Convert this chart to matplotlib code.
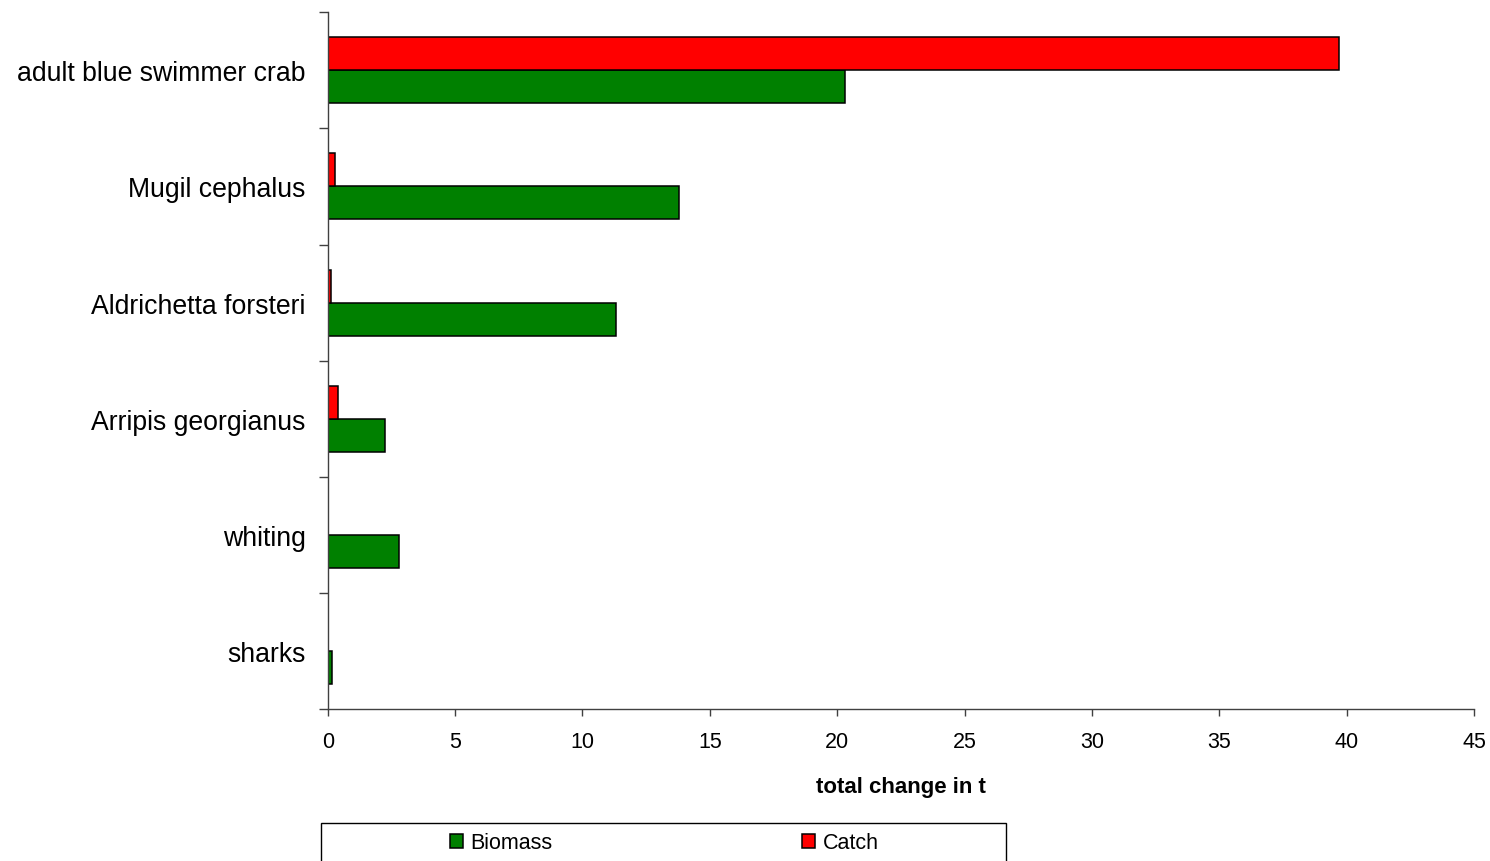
import matplotlib
matplotlib.use("Agg")
import matplotlib.pyplot as plt
from matplotlib.patches import Rectangle, Patch
import numpy as np

categories = ["adult blue swimmer crab", "Mugil cephalus", "Aldrichetta forsteri",
              "Arripis georgianus", "whiting", "sharks"]
biomass = [20.3, 13.8, 11.3, 2.25, 2.8, 0.15]
catch = [39.7, 0.27, 0.13, 0.42, 0.0, 0.0]
x_ticks = [0, 5, 10, 15, 20, 25, 30, 35, 40, 45]
series_names = ["Biomass", "Catch"]
series_colors = ["#008000", "#FF0000"]

plt.rcParams['font.family'] = ['Liberation Sans', 'DejaVu Sans']

W, H = 1490, 862
fig = plt.figure(figsize=(W / 100, H / 100), dpi=100)
ax = fig.add_axes([327.7 / W, 1 - 710 / H, (1474 - 327.7) / W, (710 - 13.3) / H])

y = np.arange(len(categories))
bh = 0.284
ax.barh(y + bh / 2, biomass, height=bh, color=series_colors[0], edgecolor="black",
        linewidth=1.1, label=series_names[0])
ax.barh(y - bh / 2, catch, height=bh, color=series_colors[1], edgecolor="black",
        linewidth=1.1, label=series_names[1])

ax.set_xlim(0, 45)
ax.set_ylim(len(categories) - 0.5, -0.5)
ax.set_xticks(x_ticks)
ax.set_xticklabels([str(t) for t in x_ticks], fontsize=15.5)

# category boundaries as major ticks, labels at centers via minor ticks
ax.set_yticks(np.arange(-0.5, len(categories) + 0.5, 1.0))
ax.set_yticklabels([])
ax.set_yticks(y, minor=True)
ax.set_yticklabels(categories, minor=True, fontsize=19.2)
ax.tick_params(axis='y', which='major', length=9.5 * 0.72, width=1, color='#404040')
ax.tick_params(axis='y', which='minor', length=0, pad=16)
ax.tick_params(axis='x', which='major', length=6.7 * 0.72, width=1, color='#404040', pad=11)

for s in ['top', 'right']:
    ax.spines[s].set_visible(False)
for s in ['left', 'bottom']:
    ax.spines[s].set_color('#404040')
    ax.spines[s].set_linewidth(1)

ax.set_xlabel("total change in t", fontsize=16, fontweight='bold', labelpad=17)

# legend frame (Excel-style box, extends past bottom edge)
fig.patches.append(Rectangle((321 / W, -0.05), (1005.7 - 321) / W, (1 - 824 / H) + 0.05,
                             transform=fig.transFigure, facecolor='none',
                             edgecolor='black', linewidth=1))
handles = [Patch(facecolor=series_colors[0], edgecolor='black', linewidth=1.1),
           Patch(facecolor=series_colors[1], edgecolor='black', linewidth=1.1)]
fig.legend(handles, series_names, loc='center', bbox_to_anchor=(664 / W, 1 - 844 / H),
           ncol=2, frameon=False, fontsize=15.5, handlelength=0.6, handleheight=0.6,
           handletextpad=0.35, columnspacing=11.6, borderpad=0, borderaxespad=0)

fig.savefig("out.png", dpi=100, facecolor='white')
